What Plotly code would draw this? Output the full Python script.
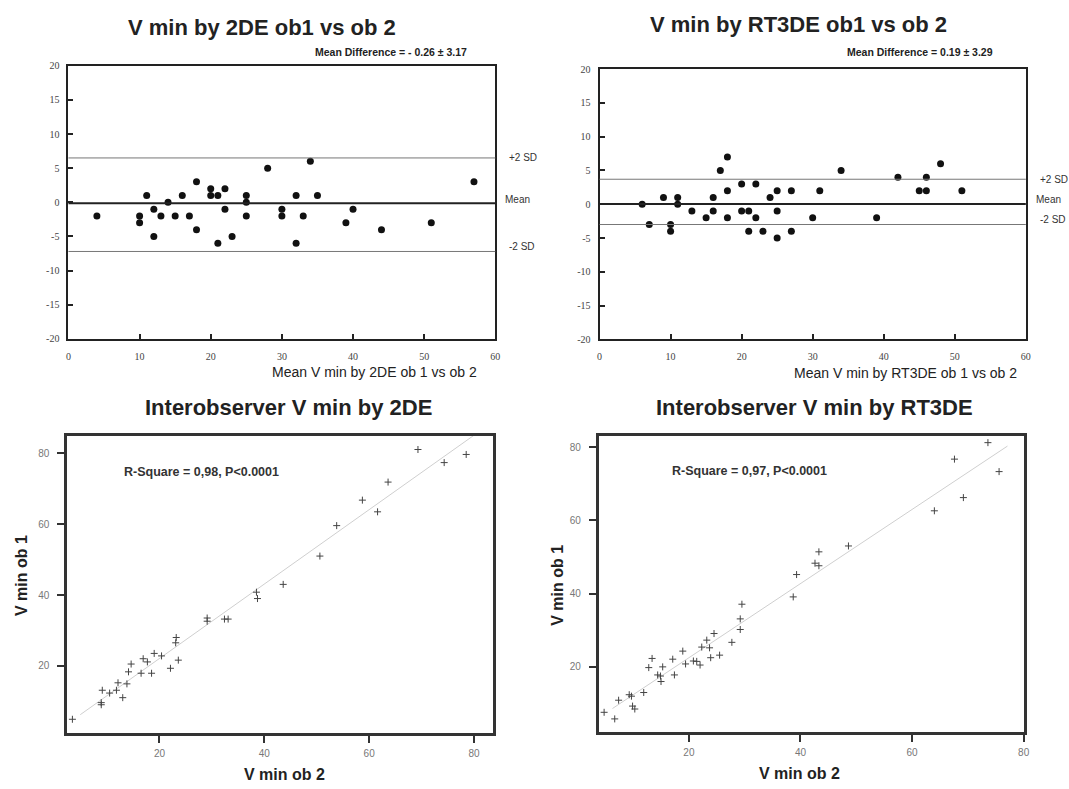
import numpy as np
import plotly.graph_objects as go

W, H = 1069, 789

# ---------------- data ----------------
# Bland-Altman: V min by 2DE (mean of observers, difference)
ba2de_mean = [34, 28, 18, 57, 20, 22, 11, 16, 20, 21, 25, 32, 35, 14, 25, 12, 22, 30, 40,
              4, 10, 13, 15, 17, 25, 30, 33, 10, 39, 51, 18, 44, 12, 23, 21, 32]
ba2de_diff = [6, 5, 3, 3, 2, 2, 1, 1, 1, 1, 1, 1, 1, 0, 0, -1, -1, -1, -1,
              -2, -2, -2, -2, -2, -2, -2, -2, -3, -3, -3, -4, -4, -5, -5, -6, -6]
ba2de_lines = [6.5, -0.15, -7.2]          # +2 SD, Mean, -2 SD

# Bland-Altman: V min by RT3DE
ba3de_mean = [18, 48, 17, 34, 42, 46, 20, 22, 18, 25, 27, 31, 45, 46, 51, 9, 11, 16, 24,
              6, 11, 13, 16, 20, 21, 25, 15, 18, 22, 30, 39, 7, 10, 10, 21, 23, 27, 25]
ba3de_diff = [7, 6, 5, 5, 4, 4, 3, 3, 2, 2, 2, 2, 2, 2, 2, 1, 1, 1, 1,
              0, 0, -1, -1, -1, -1, -1, -2, -2, -2, -2, -2, -3, -3, -4, -4, -4, -4, -5]
ba3de_lines = [3.7, 0.05, -3.0]

sd_labels = ["+2 SD", "Mean", "-2 SD"]

ba_xticks = [0, 10, 20, 30, 40, 50, 60]
ba_xticktext = ["0", "10", "20", "30", "40", "50", "60"]
ba_yticks = [-20, -15, -10, -5, 0, 5, 10, 15, 20]
ba_yticktext = ["-20", "-15", "-10", "-5", "0", "5", "10", "15", "20"]
io_ticks = [20, 40, 60, 80]

# Interobserver scatter 2DE (x = ob 2, y = ob 1)
io2de_ob2 = [69.3, 74.3, 78.5, 63.6, 58.7, 61.6, 53.8, 50.6, 43.6, 38.5, 38.7, 29.1, 29.1,
             32.4, 33.1, 23.2, 23.1, 23.6, 22.1, 20.4, 19.0, 16.9, 17.7, 18.5, 16.5, 14.6,
             14.1, 13.8, 12.1, 11.8, 10.5, 9.1, 8.9, 8.9, 13.0, 3.4]
io2de_ob1 = [81.1, 77.4, 79.7, 71.9, 66.8, 63.5, 59.6, 51.0, 43.0, 40.8, 39.0, 33.5, 32.6,
             33.2, 33.2, 28.0, 26.5, 21.6, 19.3, 22.8, 23.5, 22.0, 21.1, 17.9, 17.9, 20.5,
             18.3, 14.9, 15.2, 13.1, 12.3, 13.1, 9.6, 9.0, 11.0, 4.9]

# Interobserver scatter RT3DE
io3de_ob2 = [73.6, 67.6, 75.6, 69.2, 64.0, 48.6, 43.3, 42.6, 43.3, 39.3, 38.7, 29.5, 29.2,
             29.2, 27.7, 24.5, 23.2, 22.3, 23.7, 23.9, 25.5, 18.9, 19.4, 20.8, 21.4, 22.0,
             17.1, 13.4, 12.8, 15.3, 14.4, 14.9, 15.0, 17.4, 11.9, 9.3, 9.7, 7.4, 9.9, 10.3,
             4.8, 6.7]
io3de_ob1 = [81.2, 76.7, 73.3, 66.2, 62.6, 53.0, 51.4, 48.3, 47.6, 45.2, 39.1, 37.1, 33.1,
             30.2, 26.7, 29.1, 27.3, 25.4, 25.2, 22.5, 23.2, 24.3, 20.8, 21.6, 21.5, 20.5,
             22.1, 22.3, 19.8, 20.0, 17.8, 17.5, 16.0, 17.8, 13.0, 12.4, 12.0, 10.9, 9.3, 8.5,
             7.6, 5.8]

titles = ["V min by 2DE ob1 vs ob 2", "V min by RT3DE ob1 vs ob 2",
          "Interobserver V min by 2DE", "Interobserver V min by RT3DE"]
mean_diff_text = ["Mean Difference = - 0.26 ± 3.17", "Mean Difference = 0.19 ± 3.29"]
ba_xtitles = ["Mean V min by 2DE ob 1 vs ob 2", "Mean V min by RT3DE ob 1 vs ob 2"]
rsq_text = ["R-Square = 0,98, P<0.0001", "R-Square = 0,97, P<0.0001"]

# ---------------- helpers ----------------
def fx(px):
    return px / W

def fy(py):
    return 1 - py / H

SANS = "Liberation Sans, Arial, sans-serif"
SERIF = "Liberation Serif"

fig = go.Figure()

# Bland-Altman scatter
for i, (xs, ys) in enumerate([(ba2de_mean, ba2de_diff), (ba3de_mean, ba3de_diff)]):
    ax = "" if i == 0 else "2"
    fig.add_trace(go.Scatter(x=xs, y=ys, mode="markers", xaxis="x" + ax, yaxis="y" + ax,
                             marker=dict(symbol="circle", size=7, color="#111111"),
                             showlegend=False, hoverinfo="skip"))

# Interobserver scatter + regression lines
for i, (xs, ys) in enumerate([(io2de_ob2, io2de_ob1), (io3de_ob2, io3de_ob1)]):
    ax = str(i + 3)
    xs_a = np.array(xs)
    ys_a = np.array(ys)
    slope, icpt = np.polyfit(xs_a, ys_a, 1)
    xl = np.array([xs_a.min() + 1.5, xs_a.max() + 1.5])
    fig.add_trace(go.Scatter(x=xl, y=slope * xl + icpt, mode="lines",
                             xaxis="x" + ax, yaxis="y" + ax,
                             line=dict(color="#cfcfcf", width=1),
                             showlegend=False, hoverinfo="skip"))
    fig.add_trace(go.Scatter(x=xs, y=ys, mode="markers", xaxis="x" + ax, yaxis="y" + ax,
                             marker=dict(symbol="cross-thin", size=5,
                                         line=dict(color="#444444", width=1)),
                             showlegend=False, hoverinfo="skip"))

# ---------------- axes ----------------
ba_domains = [
    ([66, 496.5], [60.7, 338]),
    ([601.6, 1031.5], [64.1, 338.5]),
]
io_domains = [
    ([64.7, 494.1], [436.7, 738.3]),
    ([600.6, 1029.3], [436.7, 737.3]),
]
io_ranges = [([2.4, 83.6], [1.0, 84.9]), ([3.8, 80.0], [2.2, 83.0])]

layout_axes = {}
for i, (dx, dy) in enumerate(ba_domains):
    n = "" if i == 0 else str(i + 1)
    ref = "" if i == 0 else str(i + 1)
    layout_axes["xaxis" + n] = dict(
        domain=[fx(dx[0]), fx(dx[1])], range=[0, 60],
        tickvals=ba_xticks, ticktext=ba_xticktext,
        anchor="y" + ref, showline=True, mirror=True, linecolor="#222", linewidth=2,
        ticks="inside", ticklen=5, tickwidth=2, tickcolor="#222",
        showgrid=False, zeroline=False, ticklabelstandoff=7,
        tickfont=dict(family=SERIF, size=10, color="#444"))
    layout_axes["yaxis" + n] = dict(
        domain=[fy(dy[1]), fy(dy[0])], range=[-20, 20],
        tickvals=ba_yticks, ticktext=ba_yticktext,
        anchor="x" + ref, showline=True, mirror=True, linecolor="#222", linewidth=2,
        ticks="inside", ticklen=5, tickwidth=2, tickcolor="#222",
        showgrid=False, zeroline=False, ticklabelstandoff=5,
        tickfont=dict(family=SERIF, size=10, color="#444"))

for i, (dx, dy) in enumerate(io_domains):
    n = str(i + 3)
    xr, yr = io_ranges[i]
    layout_axes["xaxis" + n] = dict(
        domain=[fx(dx[0]), fx(dx[1])], range=xr, tickvals=io_ticks,
        anchor="y" + n, showline=True, mirror=True, linecolor="#333", linewidth=2.5,
        ticks="outside", ticklen=7, tickwidth=2, tickcolor="#333",
        showgrid=False, zeroline=False, ticklabelstandoff=2,
        tickfont=dict(family=SANS, size=10, color="#777"))
    layout_axes["yaxis" + n] = dict(
        domain=[fy(dy[1]), fy(dy[0])], range=yr, tickvals=io_ticks,
        anchor="x" + n, showline=True, mirror=True, linecolor="#333", linewidth=2.5,
        ticks="outside", ticklen=7, tickwidth=2, tickcolor="#333",
        showgrid=False, zeroline=False, ticklabelstandoff=6,
        tickfont=dict(family=SANS, size=10, color="#777"))

# ---------------- reference lines (Bland-Altman) ----------------
shapes = []
annotations = []
for i, vals in enumerate([ba2de_lines, ba3de_lines]):
    ref = "" if i == 0 else str(i + 1)
    for j, v in enumerate(vals):
        is_mean = (j == 1)
        shapes.append(dict(type="line", xref="x" + ref + " domain", yref="y" + ref,
                           x0=0, x1=1, y0=v, y1=v,
                           line=dict(color="#222" if is_mean else "#777",
                                     width=2 if is_mean else 1)))
        annotations.append(dict(xref="x" + ref + " domain", yref="y" + ref, x=1, y=v,
                                text=sd_labels[j], showarrow=False, xanchor="left",
                                xshift=8 if is_mean else 12,
                                yshift=[0, 4, 5][j],
                                font=dict(family=SANS, size=10, color="#333")))

# ---------------- text ----------------
title_pos = [(261.7, 22), (802, 19), (287.5, 408), (818.4, 408)]
for t, (px, py) in zip(titles, title_pos):
    annotations.append(dict(xref="paper", yref="paper", x=fx(px), y=fy(py),
                            text="<b>" + t + "</b>", showarrow=False,
                            xanchor="center", yanchor="middle",
                            font=dict(family=SANS, size=22, color="#222")))

for t, (px, py) in zip(mean_diff_text, [(470, 47), (1000, 47)]):
    annotations.append(dict(xref="paper", yref="paper", x=fx(px), y=fy(py),
                            text="<b>" + t + "</b>", showarrow=False,
                            xanchor="right", yanchor="middle",
                            font=dict(family=SANS, size=10.5, color="#222")))

for t, (px, py) in zip(ba_xtitles, [(375, 372), (910.5, 373)]):
    annotations.append(dict(xref="paper", yref="paper", x=fx(px), y=fy(py),
                            text=t, showarrow=False,
                            xanchor="center", yanchor="middle",
                            font=dict(family=SANS, size=14, color="#222")))

for t, (px, py) in zip(rsq_text, [(120, 473), (673, 472)]):
    annotations.append(dict(xref="paper", yref="paper", x=fx(px), y=fy(py),
                            text="<b>" + t + "</b>", showarrow=False,
                            xanchor="left", yanchor="middle",
                            font=dict(family=SANS, size=12.5, color="#333")))

for (px, py) in [(284, 780), (803, 779)]:
    annotations.append(dict(xref="paper", yref="paper", x=fx(px), y=fy(py),
                            text="<b>V min ob 2</b>", showarrow=False,
                            xanchor="center", yanchor="middle",
                            font=dict(family=SANS, size=16, color="#222")))

for (px, py) in [(18, 578), (558.5, 588)]:
    annotations.append(dict(xref="paper", yref="paper", x=fx(px), y=fy(py),
                            text="<b>V min ob 1</b>", showarrow=False, textangle=-90,
                            xanchor="center", yanchor="middle",
                            font=dict(family=SANS, size=16, color="#222")))

fig.update_layout(
    width=W, height=H,
    margin=dict(l=0, r=0, t=0, b=0),
    paper_bgcolor="white", plot_bgcolor="white",
    showlegend=False,
    shapes=shapes, annotations=annotations,
    **layout_axes,
)

fig.write_html("out.html")
